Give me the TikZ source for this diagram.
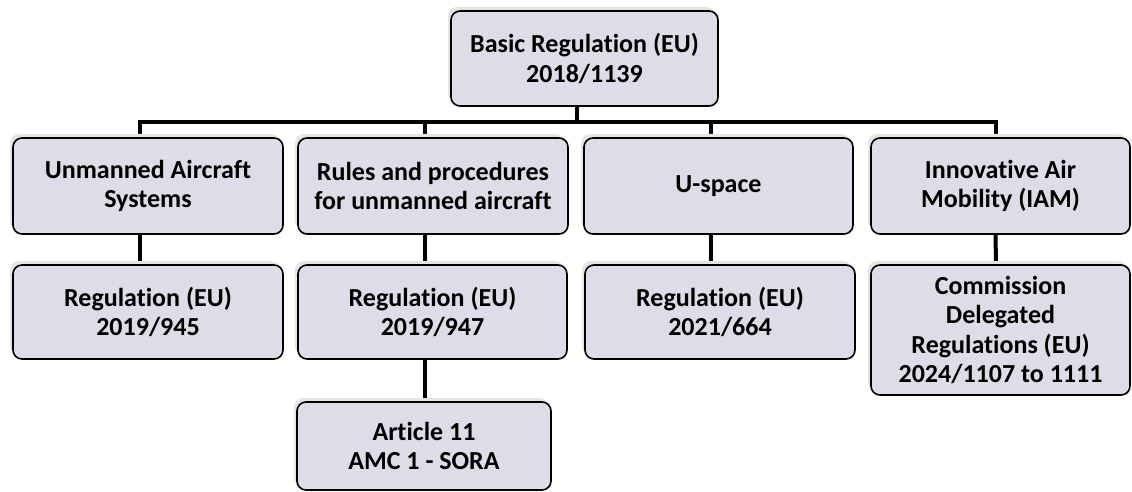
\documentclass[tikz,border=0pt]{standalone}
\usepackage{fontspec}
\setmainfont{Carlito}[Ligatures=NoCommon]
\usetikzlibrary{shadows,backgrounds}
\definecolor{boxfill}{RGB}{221,221,232}
\begin{document}
\begin{tikzpicture}[x=1pt,y=-1pt,
  box/.style={draw=black, line width=1.6pt, rounded corners=9pt, fill=boxfill,
    align=center, inner sep=0pt,
    font=\fontsize{26}{29.5}\selectfont\bfseries,
    drop shadow={shadow xshift=-3pt, shadow yshift=4pt, fill=black!10, opacity=1}},
  link/.style={line width=4pt, draw=black}]
\useasboundingbox (0,0) rectangle (1132,492);
% row 1
\node[box, minimum width=267pt, minimum height=95pt] (top) at (584.5,58.5) {Basic Regulation (EU)\\2018/1139};
% row 2
\node[box, minimum width=270pt, minimum height=96pt] (uas) at (148,186) {Unmanned Aircraft\\Systems};
\node[box, minimum width=270pt, minimum height=96pt] (rules) at (433,186) {Rules and procedures\\for unmanned aircraft};
\node[box, minimum width=269pt, minimum height=96pt] (usp) at (718.5,186) {U-space};
\node[box, minimum width=259pt, minimum height=96pt] (iam) at (1000.5,186) {Innovative Air\\Mobility (IAM)};
% row 3
\node[box, minimum width=270pt, minimum height=94pt] (r945) at (148,312) {Regulation (EU)\\2019/945};
\node[box, minimum width=269pt, minimum height=94pt] (r947) at (432.5,312) {Regulation (EU)\\2019/947};
\node[box, minimum width=270pt, minimum height=94pt] (r664) at (720,312) {Regulation (EU)\\2021/664};
\node[box, minimum width=259pt, minimum height=130pt] (cdr) at (1000.5,330) {Commission\\Delegated\\Regulations (EU)\\2024/1107 to 1111};
% row 4
\node[box, minimum width=254pt, minimum height=88pt] (art) at (424,446) {Article 11\\AMC 1 - SORA};
% connectors
\begin{scope}[on background layer]
\draw[link] ([xshift=-8pt]top.south) |- ([xshift=-8pt,yshift=15pt]uas.north) -- ([xshift=-8pt]uas.north);
\draw[link] ([xshift=-8pt]top.south) |- ([xshift=-8pt,yshift=15pt]rules.north) -- ([xshift=-8pt]rules.north);
\draw[link] ([xshift=-8pt]top.south) |- ([xshift=-8pt,yshift=15pt]usp.north) -- ([xshift=-8pt]usp.north);
\draw[link] ([xshift=-8pt]top.south) |- ([xshift=-5pt,yshift=15pt]iam.north) -- ([xshift=-5pt]iam.north);
\draw[link] ([xshift=-8pt]uas.south) -- ([xshift=-8pt]r945.north);
\draw[link] ([xshift=-8pt]rules.south) -- ([xshift=-7.5pt]r947.north);
\draw[link] ([xshift=-8pt]usp.south) -- ([xshift=-9.5pt]r664.north);
\draw[link] ([xshift=-5pt]iam.south) -- ([xshift=-4.5pt]cdr.north);
\draw[link] ([xshift=-7.5pt]r947.south) -- ([xshift=1pt]art.north);
\end{scope}
\end{tikzpicture}
\end{document}
